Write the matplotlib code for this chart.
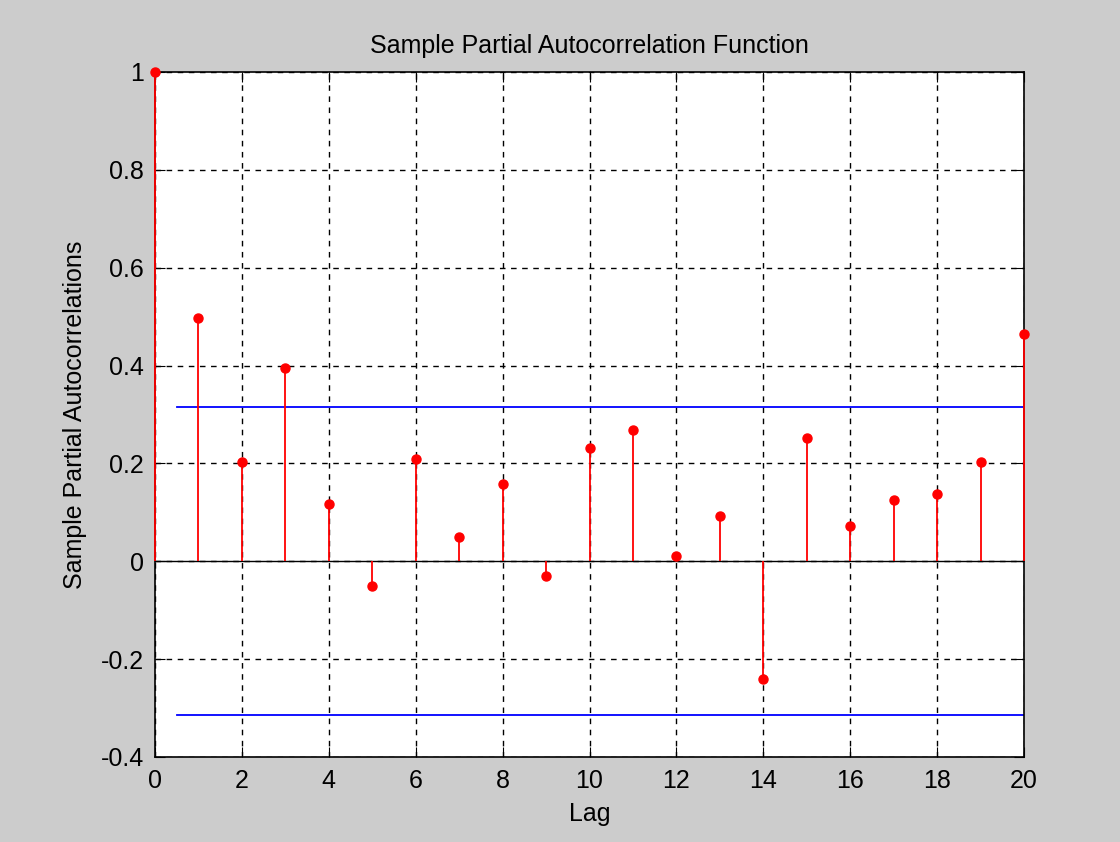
import numpy as np
import matplotlib
matplotlib.use('Agg')
import matplotlib.pyplot as plt
plt.rcParams['font.family'] = ['Liberation Sans', 'DejaVu Sans']

lags = list(range(21))
pacf = [1.0, 0.497, 0.202, 0.394, 0.116, -0.051, 0.21, 0.049, 0.157, -0.031,
        0.231, 0.268, 0.01, 0.092, -0.241, 0.251, 0.072, 0.125, 0.137, 0.202, 0.464]
bound = 0.315
bound_span = [0.5, 20]

fig = plt.figure(figsize=(11.2, 8.42), dpi=100, facecolor='#cccccc')
ax = fig.add_axes([0.1384, 0.101, 0.7759, 0.8135])

ml, sl, bl = ax.stem(lags, pacf, linefmt='r-', markerfmt='ro', basefmt='k-')
plt.setp(sl, linewidth=1.3, clip_on=False, zorder=4)
plt.setp(ml, markersize=6.5, clip_on=False, zorder=5)
plt.setp(bl, linewidth=1.0)
ax.plot(bound_span, [bound, bound], color='#0000ff', linewidth=1.3)
ax.plot(bound_span, [-bound, -bound], color='#0000ff', linewidth=1.3)

ax.set_xlim(0, 20)
ax.set_ylim(-0.4, 1)
ax.set_xticks(range(0, 21, 2))
ax.set_yticks([-0.4, -0.2, 0, 0.2, 0.4, 0.6, 0.8, 1])
ax.set_yticklabels(['-0.4', '-0.2', '0', '0.2', '0.4', '0.6', '0.8', '1'])
ax.grid(True, color='black', linestyle=(0, (4, 4)), linewidth=1.0)
ax.set_axisbelow(True)
ax.tick_params(direction='in', labelsize=18, length=7, top=True, right=True)
ax.tick_params(axis='x', pad=9)
ax.tick_params(axis='y', pad=8)
for s in ax.spines.values():
    s.set_linewidth(1.2)

ax.set_title('Sample Partial Autocorrelation Function', fontsize=18, pad=14)
ax.set_xlabel('Lag', fontsize=18, labelpad=6)
ax.set_ylabel('Sample Partial Autocorrelations', fontsize=18, labelpad=10)

fig.savefig('out.png', dpi=100, facecolor=fig.get_facecolor())
